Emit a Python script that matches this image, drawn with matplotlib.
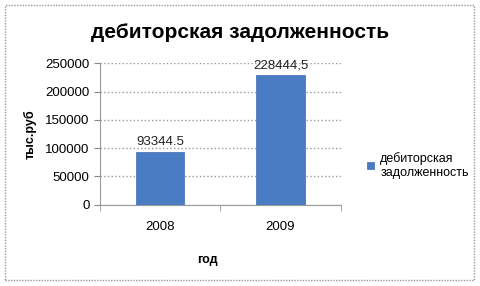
import matplotlib
matplotlib.use('Agg')
import matplotlib.pyplot as plt
from matplotlib.patches import Rectangle

plt.rcParams['font.family'] = ['Liberation Sans', 'DejaVu Sans']

years = ['2008', '2009']
values = [93344.5, 228444.5]
value_labels = ['93344.5', '228444,5']
series_name = 'дебиторская\nзадолженность'

fig = plt.figure(figsize=(4.8, 2.86), dpi=100)
ax = fig.add_axes([0.208, 0.284, 0.502, 0.495])

x = range(len(years))
bars = ax.bar(x, values, width=0.4, color='#4a7cc4', edgecolor='#3f6cb0',
              linewidth=0.5, label=series_name, zorder=3)

# подписи значений над столбцами
for xi, v, lab in zip(x, values, value_labels):
    ax.text(xi, v + 7500, lab, ha='center', va='bottom', fontsize=9.5, color='#222222')

ax.set_xlim(-0.5, 1.5)
ax.set_ylim(0, 250000)
ax.set_yticks(range(0, 250001, 50000))
ax.set_xticks(list(x))
ax.set_xticklabels(years)
ax.tick_params(axis='both', labelsize=9.5, colors='#888888', labelcolor='#000000', length=4)
ax.tick_params(axis='x', length=0, pad=12)
ax.set_xticks([-0.5, 0.5, 1.5], minor=True)
ax.tick_params(axis='x', which='minor', length=4, color='#999999')

ax.grid(axis='y', linestyle=':', color='#999999', linewidth=1, zorder=0)
for s in ['top', 'right']:
    ax.spines[s].set_visible(False)
ax.spines['left'].set_color('#999999')
ax.spines['bottom'].set_color('#999999')

fig.text(0.5, 0.885, 'дебиторская задолженность', ha='center', va='center',
         fontsize=15, fontweight='bold')
fig.text(0.063, 0.53, 'тыс.руб', ha='center', va='center', rotation=90,
         fontsize=9, fontweight='bold')
fig.text(0.433, 0.09, 'год', ha='center', va='center', fontsize=9, fontweight='bold')

leg = ax.legend(loc='center left', bbox_to_anchor=(0.752, 0.422), bbox_transform=fig.transFigure,
                frameon=False, fontsize=9, handlelength=0.55, handleheight=0.55,
                handletextpad=0.5, borderpad=0)
for t in leg.get_texts():
    t.set_linespacing(1.25)

# рамка вокруг всей диаграммы
fig.patches.append(Rectangle((0.011, 0.022), 0.977, 0.96, transform=fig.transFigure,
                             fill=False, edgecolor='#999999', linestyle=(0, (1, 1)),
                             linewidth=1))

fig.savefig('out.png', dpi=100)
